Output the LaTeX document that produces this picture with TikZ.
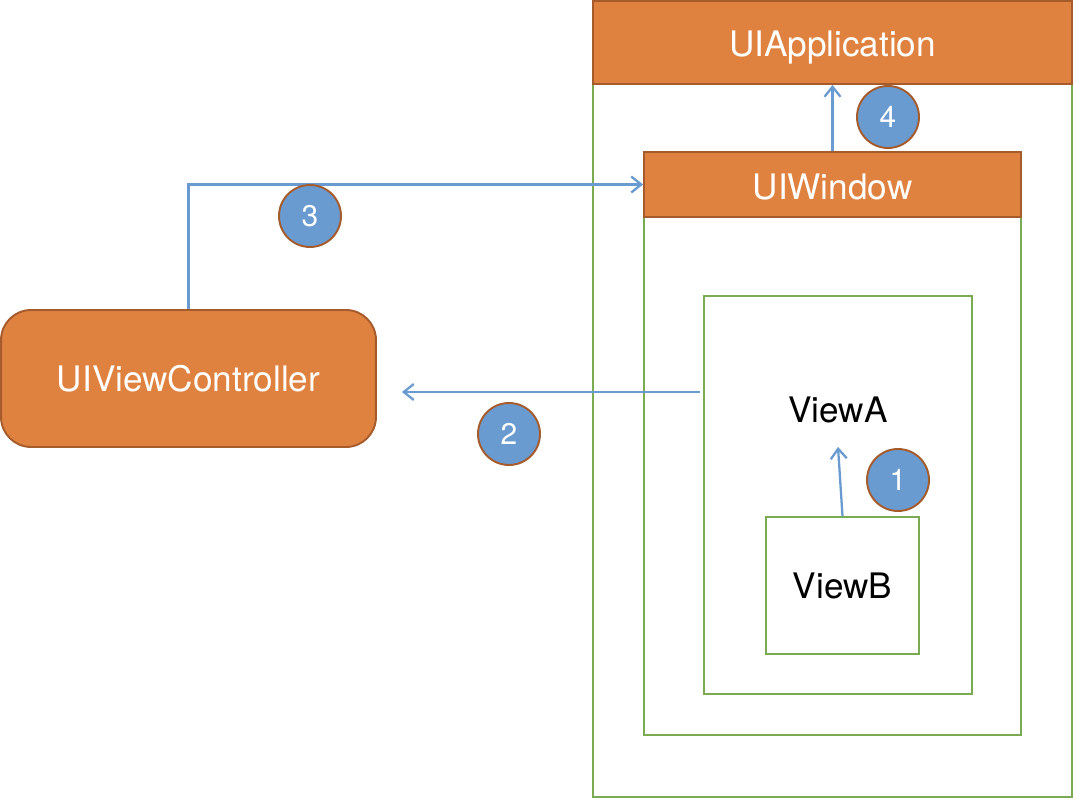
\documentclass[tikz,border=0pt]{standalone}
\usepackage{fontspec}
\setmainfont{TeX Gyre Heros}
\usetikzlibrary{positioning,arrows.meta,calc}
\definecolor{boxorange}{HTML}{E0823F}
\definecolor{boxbrown}{HTML}{A65B2C}
\definecolor{framegreen}{HTML}{7AAB52}
\definecolor{linkblue}{HTML}{6A9BD0}
\tikzset{
  header/.style={rectangle,draw=boxbrown,fill=boxorange,line width=1.1pt,text=white,font=\fontsize{20}{24}\selectfont,minimum width=#1,inner sep=0pt},
  vframe/.style={rectangle,draw=framegreen,line width=1.2pt,inner sep=0pt},
  ctrl/.style={rectangle,rounded corners=0.6cm,draw=boxbrown,fill=boxorange,line width=1.1pt,text=white,font=\fontsize{20}{24}\selectfont,minimum width=7.5cm,minimum height=2.74cm},
  vlabel/.style={font=\fontsize{20}{24}\selectfont,inner sep=2pt},
  num/.style={circle,draw=boxbrown,fill=linkblue,line width=1.1pt,text=white,font=\fontsize{17}{20}\selectfont,minimum size=1.24cm,inner sep=0pt},
  link/.style={-{Straight Barb[length=2mm,width=3.2mm]},draw=linkblue,line width=1.3pt},
}
\begin{document}
\begin{tikzpicture}[x=0.02cm,y=-0.02cm]
\useasboundingbox (0,0) rectangle (1076,800);
% nested frames
\node[vframe,minimum width=9.58cm,minimum height=15.92cm] (appframe) at (832.5,399) {};
\node[vframe,minimum width=7.54cm,minimum height=11.66cm] (winframe) at (832.5,443.5) {};
\node[vframe,minimum width=5.36cm,minimum height=7.96cm] (viewA) at (838,495) {};
\node[vframe,minimum width=3.06cm,minimum height=2.74cm,font=\fontsize{20}{24}\selectfont] (viewB) at (842.5,585.5) {ViewB};
% headers
\node[header=9.58cm,minimum height=1.66cm] (app) at (832.5,42.5) {\raisebox{-2.8pt}[\height][\depth]{UIApplication}};
\node[header=7.54cm,minimum height=1.3cm] (win) at (832.5,184.5) {\raisebox{-1.7pt}[\height][\depth]{UIWindow}};
\node[vlabel] (labelA) at (838,410) {ViewA};
\node[ctrl] (vc) at (188.5,378.5) {UIViewController};
% responder chain
\coordinate (startA) at (700,392);
\draw[link] (viewB.north) -- ([yshift=-0.4cm]labelA.south);
\draw[link,shorten >=0.5cm] (startA) -- (startA -| vc.east);
\draw[link] (vc.north) |- (win.west);
\draw[link] (win.north) -- (app.south);
% step numbers
\node[num] (n1) at (898,480) {1};
\node[num] (n2) at (509,434) {2};
\node[num] (n3) at (310,216) {3};
\node[num] (n4) at (888,117) {4};
\end{tikzpicture}
\end{document}
